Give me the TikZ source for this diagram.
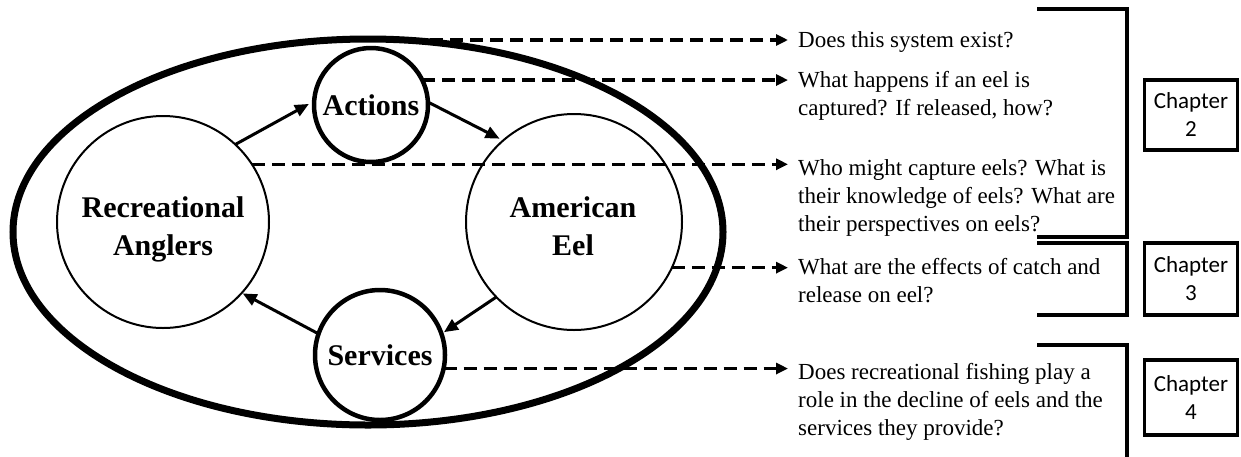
\documentclass[tikz,border=0pt]{standalone}
\usepackage{fontspec}
\setmainfont{Liberation Serif}
\newfontfamily\chapfont{Carlito}
\usetikzlibrary{shapes.geometric,arrows.meta,calc}
\begin{document}
\begin{tikzpicture}[x=1pt,y=-1pt,
  thincirc/.style={circle, draw, line width=2pt, inner sep=0pt, outer sep=0pt},
  thickcirc/.style={circle, draw, line width=4.5pt, inner sep=0pt, outer sep=0pt, font=\fontsize{30}{38}\selectfont\bfseries},
  boldlbl/.style={font=\fontsize{30}{38}\selectfont\bfseries, align=center, inner sep=0pt, anchor=base},
  qtext/.style={font=\fontsize{23}{28}\selectfont, align=left, inner sep=0pt, anchor=base west},
  link/.style={line width=3pt, -{Triangle[length=14pt,width=12pt]}},
  dlink/.style={line width=3.2pt, dash pattern=on 13pt off 7pt, -{Triangle[length=12pt,width=11pt]}},
  bracketline/.style={line width=3.5pt},
  chapbox/.style={draw, line width=3.5pt, minimum width=93pt, align=center, font=\chapfont\fontsize{23}{28}\selectfont, inner sep=0pt}
]
\useasboundingbox (0,0) rectangle (1241,456);

% system ellipse
\node[ellipse, draw, line width=7pt, minimum width=710pt, minimum height=386pt, inner sep=0pt, outer sep=0pt] (sys) at (368,232) {};

% main circles
\node[thincirc, minimum size=212pt] (ang) at (163,222) {};
\node[boldlbl] (angT) at (163,255) {Recreational\\Anglers};
\node[thincirc, minimum size=216pt] (eel) at (574,222) {};
\node[boldlbl] (eelT) at (573,255) {American\\Eel};
\node[thickcirc, minimum size=114pt] (act) at (371,105) {Actions};
\node[thickcirc, minimum size=130pt] (srv) at (380,355) {Services};

% cycle arrows
\draw[link, shorten >=6pt] (ang.47) -- (act.176);
\draw[link, shorten >=4pt] (act.3) -- (eel.131);
\draw[link, shorten >=3pt] (eel.224) -- (srv.19);
\draw[link, shorten >=1pt] (srv.161) -- (ang.-42);

% question arrows
\coordinate (tipx) at (788,0);
\coordinate (s1) at (430,40);
\draw[dlink] (s1) -- (s1 -| tipx);
\draw[dlink] (act.26) -- (act.26 -| tipx);
\draw[dlink] (ang.33) -- (ang.33 -| tipx);
\draw[dlink] (eel.-25) -- (eel.-25 -| tipx);
\draw[dlink] (srv.-12) -- (srv.-12 -| tipx);

% questions (anchor = baseline of last line)
\node[qtext] (q1) at (798,47) {Does this system exist?};
\node[qtext] (q2) at (798,115) {What happens if an eel is\\captured? If released, how?};
\node[qtext] (q3) at (798,231) {Who might capture eels? What is\\their knowledge of eels? What are\\their perspectives on eels?};
\node[qtext] (q4) at (798,302) {What are the effects of catch and\\release on eel?};
\node[qtext] (q5) at (798,435) {Does recreational fishing play a\\role in the decline of eels and the\\services they provide?};

% brackets
\draw[bracketline] (1037,9) -- (1127,9) -- (1127,237) -- (1037,237);
\draw[bracketline] (1037,243) -- (1127,243) -- (1127,315) -- (1037,315);
\draw[bracketline] (1037,345) -- (1127,345) -- (1127,460);

% chapter boxes
\node[chapbox, minimum height=70pt] (ch2) at (1191,115) {Chapter\\2};
\node[chapbox, minimum height=72pt] (ch3) at (1191,279) {Chapter\\3};
\node[chapbox, minimum height=75pt] (ch4) at (1191,397.5) {Chapter\\4};
\end{tikzpicture}
\end{document}
